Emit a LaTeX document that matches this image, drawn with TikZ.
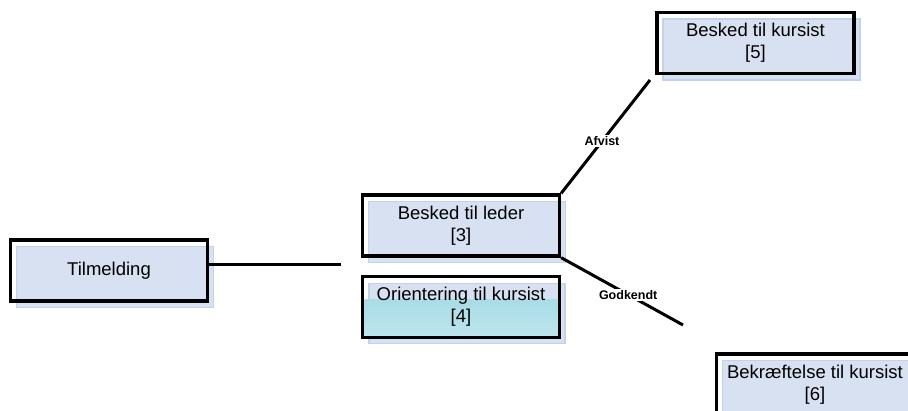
\documentclass[tikz,border=0pt]{standalone}
\usepackage{fontspec}
\setmainfont{Liberation Sans}
\usetikzlibrary{shadows}
\definecolor{boxfill}{HTML}{D7E1F1}
\definecolor{boxedge}{HTML}{C3D2EB}
\definecolor{cyanfill}{HTML}{A9DCE6}
\definecolor{cyanlight}{HTML}{BCE5EC}
\tikzset{
  stepbox/.style={draw=black, line width=3.3pt, minimum width=197pt, minimum height=61pt,
    align=center, inner sep=0pt, font=\fontsize{18.5pt}{22pt}\selectfont},
  shadowed/.style={general shadow={fill=boxfill, draw=boxedge, line width=1.2pt,
    shadow xshift=6pt, shadow yshift=-6.5pt}},
  conn/.style={line width=3pt, black},
  clabel/.style={fill=white, inner sep=1.5pt, font=\fontsize{12.5pt}{14pt}\selectfont\bfseries}
}
\begin{document}
\begin{tikzpicture}[x=1pt,y=-1pt]
\useasboundingbox (0,0) rectangle (908,410);
% shadow for Orientering (two tones)
\fill[boxfill, draw=boxedge, line width=1.2pt] (369,283.5) rectangle (565,343.5);
\shade[top color=cyanfill, bottom color=cyanlight] (364.7,299.5) rectangle (557.3,335.3);
\node[stepbox, shadowed] (t) at (109,270.5) {Tilmelding};
\node[stepbox, shadowed] (l) at (461,225.5) {Besked til leder\\{[3]}};
\node[stepbox] (o) at (461,307) {Orientering til kursist\\{[4]}};
\node[stepbox, shadowed] (k) at (755.5,43) {Besked til kursist\\{[5]}};
\node[stepbox, shadowed] (b) at (815,384.5) {Bekræftelse til kursist\\{[6]}};
\coordinate (e1) at (341,264);
\coordinate (a1) at (650,80);
\coordinate (g1) at (683,325);
\draw[conn] (t.east |- e1) -- (e1);
\draw[conn] (l.north east) -- (a1) node[clabel, pos=0.46] {Afvist};
\draw[conn] (l.south east) -- (g1) node[clabel, pos=0.55] {Godkendt};
\end{tikzpicture}
\end{document}
